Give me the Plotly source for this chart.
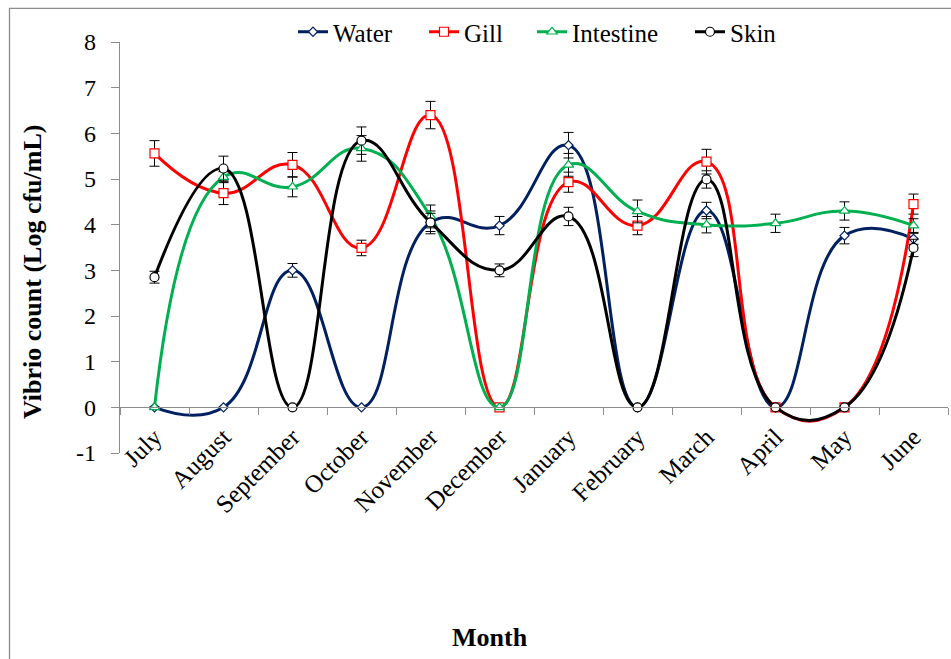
import plotly.graph_objects as go

months = ["July", "August", "September", "October", "November", "December",
          "January", "February", "March", "April", "May", "June"]

water = [0, 0, 3.0, 0, 4.05, 3.98, 5.74, 0, 4.31, 0, 3.76, 3.69]
gill = [5.56, 4.69, 5.31, 3.49, 6.40, 0, 4.93, 3.98, 5.38, 0, 0, 4.45]
intestine = [0, 5.04, 4.83, 5.67, 4.18, 0, 5.31, 4.29, 4.0, 4.03, 4.30, 3.98]
skin = [2.85, 5.23, 0, 5.84, 4.05, 3.0, 4.18, 0, 4.99, 0, 0, 3.49]

water_err = [0, 0, 0.15, 0, 0.25, 0.2, 0.28, 0, 0.18, 0, 0.18, 0.12]
gill_err = [0.28, 0.25, 0.27, 0.17, 0.3, 0, 0.22, 0.2, 0.27, 0, 0, 0.22]
intestine_err = [0, 0.12, 0.22, 0.28, 0.25, 0, 0.25, 0.25, 0.18, 0.2, 0.2, 0.15]
skin_err = [0.13, 0.27, 0, 0.3, 0.2, 0.14, 0.2, 0, 0.19, 0, 0, 0.19]

y_ticks = [-1, 0, 1, 2, 3, 4, 5, 6, 7, 8]
y_tick_text = ["-1", "0", "1", "2", "3", "4", "5", "6", "7", "8"]

series = [
    ("Water", water, water_err, "#002060", "diamond", 7),
    ("Gill", gill, gill_err, "#FF0000", "square", 9),
    ("Intestine", intestine, intestine_err, "#00B050", "triangle-up", 9),
    ("Skin", skin, skin_err, "#000000", "circle", 9),
]

FONT = "Liberation Serif, Times New Roman, serif"
GREY = "#8c8c8c"

W, H = 951, 659
L, R, T, B = 120, 3, 42, 206
pw = W - L - R
ph = H - T - B


def px_x(p):
    return (p - L) / pw


def px_y(p):
    return (H - B - p) / ph


legend_ids = ["legend", "legend2", "legend3", "legend4"]
legend_text_start = [333, 464, 572, 730]

fig = go.Figure()
for (name, vals, err, color, sym, size), lid in zip(series, legend_ids):
    fig.add_trace(go.Scatter(
        x=months, y=vals, name=name, mode="lines+markers", legend=lid,
        line=dict(color=color, width=3, shape="spline", smoothing=1.3),
        marker=dict(symbol=sym, size=size, color="white",
                    line=dict(color=color, width=1.2)),
        error_y=dict(type="data", array=err, visible=True,
                     color="black", thickness=1, width=5),
    ))

legends = {}
for lid, ts in zip(legend_ids, legend_text_start):
    legends[lid] = dict(orientation="h", x=px_x(ts - 40), xanchor="left",
                        y=px_y(32), yanchor="middle",
                        font=dict(family=FONT, size=25, color="black"),
                        bgcolor="rgba(0,0,0,0)", borderwidth=0)

fig.update_layout(
    width=W, height=H,
    margin=dict(l=L, r=R, t=T, b=B, pad=0),
    paper_bgcolor="white", plot_bgcolor="white",
    font=dict(family=FONT, size=24, color="black"),
    showlegend=True,
    xaxis=dict(type="category", categoryorder="array", categoryarray=months,
               range=[-0.5, 11.5], anchor="free", position=1/9,
               showline=True, linecolor=GREY, linewidth=1.3,
               ticks="outside", tickson="boundaries", ticklen=7,
               tickcolor=GREY, tickwidth=1.3, tickangle=-45,
               ticklabelstandoff=4, showgrid=False, zeroline=False,
               automargin=False,
               tickfont=dict(family=FONT, size=25, color="black")),
    yaxis=dict(range=[-1, 8], tickmode="array", tickvals=y_ticks,
               ticktext=y_tick_text, showline=True,
               linecolor=GREY, linewidth=1.3, ticks="outside", ticklen=8,
               tickcolor=GREY, tickwidth=1.3, showgrid=False, zeroline=False,
               automargin=False, ticklabelstandoff=10,
               tickfont=dict(family=FONT, size=24, color="black")),
    annotations=[
        dict(text="<b>Vibrio count (Log cfu/mL)</b>", textangle=-90,
             xref="paper", yref="paper", x=px_x(32), y=px_y(272),
             xanchor="center", yanchor="middle", showarrow=False,
             font=dict(family=FONT, size=26, color="black")),
        dict(text="<b>Month</b>", xref="paper", yref="paper",
             x=px_x(490), y=px_y(637), xanchor="center", yanchor="middle",
             showarrow=False, font=dict(family=FONT, size=26, color="black")),
    ],
    shapes=[
        dict(type="path", xref="paper", yref="paper",
             path=f"M {px_x(9.5)},{px_y(700)} L {px_x(9.5)},{px_y(8.3)} L {px_x(1000)},{px_y(8.3)}",
             line=dict(color=GREY, width=1.3), layer="below"),
    ],
    **legends,
)

fig.write_html("out.html", config={"displayModeBar": False},
               post_script="document.body.style.margin='0';document.body.style.overflow='hidden';")
